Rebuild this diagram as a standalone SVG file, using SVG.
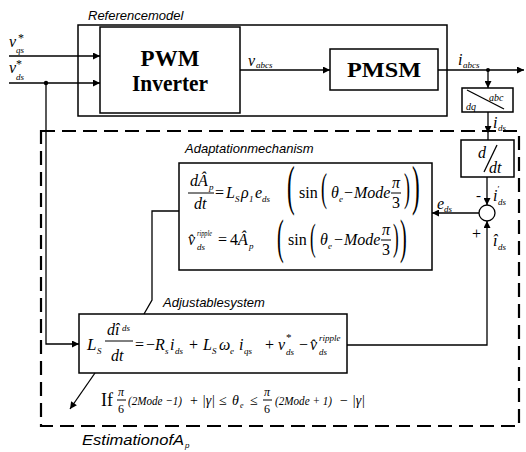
<svg xmlns="http://www.w3.org/2000/svg" width="526" height="452" viewBox="0 0 526 452" font-size="16">
<defs>
<style>
.box{fill:none;stroke:#000;stroke-width:1.5}
.dash{fill:none;stroke:#000;stroke-width:2.2;stroke-dasharray:14 7}
.ln{fill:none;stroke:#000;stroke-width:1.3}
.fb{fill:none;stroke:#000;stroke-width:1}
.hd{font-family:"Liberation Sans",Arial,sans-serif;font-style:italic;fill:#000}
.big{font-family:"Liberation Serif","Times New Roman",serif;font-weight:bold;fill:#000}
.m{font-family:"Liberation Serif","Times New Roman",serif;font-style:italic;fill:#000}
.r{font-family:"Liberation Serif","Times New Roman",serif;fill:#000}
.s{font-family:"Liberation Serif","Times New Roman",serif;font-style:italic;fill:#000}
</style>
<marker id="ah" viewBox="0 0 10 10" refX="10" refY="5" markerWidth="9" markerHeight="7" orient="auto" markerUnits="userSpaceOnUse"><path d="M0,0 L10,5 L0,10 z" fill="#000"/></marker>
</defs>
<rect width="526" height="452" fill="#fff"/>

<g id="reference-model">
<rect class="box" x="78" y="25" width="369" height="91"/>
<text class="hd" x="88" y="20" font-size="13">Referencemodel</text>
</g>

<g id="pwm-inverter">
<rect class="box" x="100" y="27" width="140" height="86"/>
<text class="big" x="170" y="66" font-size="23" text-anchor="middle">PWM</text>
<text class="big" x="170" y="91" font-size="23" text-anchor="middle" textLength="76" lengthAdjust="spacingAndGlyphs">Inverter</text>
</g>

<g id="pmsm">
<rect class="box" x="330" y="49" width="108" height="41"/>
<text class="big" x="384" y="77" font-size="21" text-anchor="middle" textLength="74" lengthAdjust="spacingAndGlyphs">PMSM</text>
</g>

<g id="dq-abc">
<rect class="box" x="462" y="88" width="51" height="24"/>
<line class="ln" x1="467" y1="90" x2="504" y2="109"/>
<text class="s" x="489" y="101" font-size="10">abc</text>
<text class="s" x="466" y="110" font-size="10">dq</text>
</g>

<g id="ddt">
<rect class="box" x="461" y="140" width="53" height="37"/>
<text class="m" x="478" y="158">d</text>
<line class="ln" x1="484" y1="172" x2="497" y2="145"/>
<text class="m" x="489" y="173">dt</text>
</g>

<g id="summing-junction">
<circle class="ln" cx="487" cy="213" r="8"/>
<text class="r" x="476" y="200" font-size="15">-</text>
<text class="r" x="472" y="239" font-size="16">+</text>
</g>

<g id="estimation">
<rect class="dash" x="41" y="131" width="478" height="295"/>
<text class="hd" x="82" y="445" font-size="14" textLength="102" lengthAdjust="spacingAndGlyphs">EstimationofA</text>
<text class="hd" x="185" y="448" font-size="8">p</text>
</g>

<g id="adaptation-mechanism">
<rect class="box" x="179" y="163" width="253" height="107"/>
<text class="hd" x="185" y="153" font-size="13">Adaptationmechanism</text>
<!-- eq 1 -->
<text class="m" x="190" y="186">dÂ</text>
<text class="s" x="209" y="190" font-size="9">p</text>
<line class="fb" x1="188" y1="193" x2="214" y2="193"/>
<text class="m" x="194" y="209">dt</text>
<text class="r" x="215" y="198">=</text>
<text class="m" x="226" y="198">L</text>
<text class="s" x="235" y="202" font-size="9">S</text>
<text class="m" x="241" y="198">ρ</text>
<text class="s" x="249" y="202" font-size="9" font-style="normal">1</text>
<text class="m" x="255" y="198">e</text>
<text class="s" x="262" y="202" font-size="9">ds</text>
<text class="r" transform="translate(287,204) scale(0.42,1)" font-size="55">(</text>
<text class="r" x="299" y="198">sin</text>
<text class="r" transform="translate(321,201) scale(0.45,1)" font-size="40">(</text>
<text class="m" x="331" y="198">θ</text>
<text class="s" x="339" y="202" font-size="9">e</text>
<text class="r" x="344" y="198">−</text>
<text class="m" x="354" y="198">Mode</text>
<text class="m" x="392" y="188">π</text>
<line class="fb" x1="391" y1="193" x2="401" y2="193"/>
<text class="r" x="392" y="208">3</text>
<text class="r" transform="translate(404,201) scale(0.45,1)" font-size="40">)</text>
<text class="r" transform="translate(412,204) scale(0.42,1)" font-size="55">)</text>
<!-- eq 2 -->
<text class="m" x="188" y="245">v̂</text>
<text class="s" x="197" y="236" font-size="9" textLength="15" lengthAdjust="spacingAndGlyphs">ripple</text>
<text class="s" x="197" y="250" font-size="9">ds</text>
<text class="r" x="218" y="245">=</text>
<text class="r" x="230" y="245">4</text>
<text class="m" x="238" y="245">Â</text>
<text class="s" x="249" y="249" font-size="9">p</text>
<text class="r" transform="translate(277,253) scale(0.42,1)" font-size="48">(</text>
<text class="r" x="288" y="245">sin</text>
<text class="r" transform="translate(310,250) scale(0.45,1)" font-size="38">(</text>
<text class="m" x="320" y="245">θ</text>
<text class="s" x="328" y="249" font-size="9">e</text>
<text class="r" x="334" y="245">−</text>
<text class="m" x="344" y="245">Mode</text>
<text class="m" x="382" y="235">π</text>
<line class="fb" x1="381" y1="240" x2="391" y2="240"/>
<text class="r" x="382" y="255">3</text>
<text class="r" transform="translate(393,250) scale(0.45,1)" font-size="38">)</text>
<text class="r" transform="translate(400,253) scale(0.42,1)" font-size="48">)</text>
</g>

<g id="adjustable-system">
<rect class="box" x="79" y="314" width="268" height="59"/>
<text class="hd" x="163" y="307" font-size="13">Adjustablesystem</text>
<text class="m" x="87" y="350" font-size="17">L</text>
<text class="s" x="97" y="354" font-size="9">S</text>
<text class="m" x="107" y="335">dî</text>
<text class="s" x="122" y="331" font-size="9">ds</text>
<line class="fb" x1="105" y1="341" x2="133" y2="341"/>
<text class="m" x="111" y="361">dt</text>
<text class="r" x="135" y="350">=</text>
<text class="r" x="146" y="350">−</text>
<text class="m" x="155" y="350">R</text>
<text class="s" x="165" y="354" font-size="9">s</text>
<text class="m" x="170" y="350">i</text>
<text class="s" x="175" y="354" font-size="9">ds</text>
<text class="r" x="189" y="350">+</text>
<text class="m" x="203" y="350">L</text>
<text class="s" x="212" y="354" font-size="9">S</text>
<text class="m" x="219" y="350">ω</text>
<text class="s" x="230" y="354" font-size="9">e</text>
<text class="m" x="239" y="350">i</text>
<text class="s" x="244" y="354" font-size="9">qs</text>
<text class="r" x="265" y="350">+</text>
<text class="m" x="278" y="350">v</text>
<text class="r" x="286" y="341" font-size="11">*</text>
<text class="s" x="286" y="355" font-size="9">ds</text>
<text class="r" x="299" y="350">−</text>
<text class="m" x="310" y="350">v̂</text>
<text class="s" x="319" y="341" font-size="9">ripple</text>
<text class="s" x="319" y="355" font-size="9">ds</text>
</g>

<g id="condition">
<text class="r" x="101" y="406" font-size="18">If</text>
<text class="m" x="118" y="396" font-size="12">π</text>
<line class="fb" x1="117" y1="400" x2="126" y2="400"/>
<text class="r" x="118" y="413" font-size="12">6</text>
<text class="m" x="128" y="405" font-size="13" textLength="54" lengthAdjust="spacingAndGlyphs">(2Mode −1)</text>
<text class="r" x="190" y="405" font-size="14">+</text>
<text class="m" x="202" y="405" font-size="14">|γ|</text>
<text class="r" x="219" y="405" font-size="14">≤</text>
<text class="m" x="232" y="405" font-size="14">θ</text>
<text class="s" x="240" y="408" font-size="8">e</text>
<text class="r" x="250" y="405" font-size="14">≤</text>
<text class="m" x="264" y="396" font-size="12">π</text>
<line class="fb" x1="263" y1="400" x2="272" y2="400"/>
<text class="r" x="264" y="413" font-size="12">6</text>
<text class="m" x="275" y="405" font-size="13" textLength="57" lengthAdjust="spacingAndGlyphs">(2Mode + 1)</text>
<text class="r" x="340" y="405" font-size="14">−</text>
<text class="m" x="352" y="405" font-size="14">|γ|</text>
</g>

<g id="labels">
<text class="m" x="9" y="47">v</text>
<text class="r" x="18" y="42" font-size="12">*</text>
<text class="s" x="16" y="53" font-size="9">qs</text>
<text class="m" x="9" y="73">v</text>
<text class="r" x="16" y="68" font-size="12">*</text>
<text class="s" x="16" y="80" font-size="9">ds</text>
<text class="m" x="248" y="66">v</text>
<text class="s" x="256" y="68" font-size="9">abcs</text>
<text class="m" x="458" y="65">i</text>
<text class="s" x="463" y="68" font-size="9">abcs</text>
<text class="m" x="493" y="128">i</text>
<text class="s" x="498" y="131" font-size="9">ds</text>
<text class="m" x="493" y="201">i</text>
<text class="s" x="497" y="192" font-size="9">′</text>
<text class="s" x="498" y="205" font-size="9">ds</text>
<text class="m" x="437" y="209">e</text>
<text class="s" x="444" y="212" font-size="9">ds</text>
<text class="m" x="493" y="246">î</text>
<text class="s" x="498" y="250" font-size="9">ds</text>
</g>

<g id="connectors">
<line class="ln" x1="9" y1="56" x2="100" y2="56" marker-end="url(#ah)"/>
<line class="ln" x1="9" y1="83" x2="100" y2="83" marker-end="url(#ah)"/>
<circle cx="46" cy="83" r="2.2" fill="#000"/>
<polyline class="ln" points="46,83 46,344 79,344" marker-end="url(#ah)"/>
<line class="ln" x1="240" y1="70" x2="330" y2="70" marker-end="url(#ah)"/>
<line class="ln" x1="438" y1="70" x2="524" y2="70" marker-end="url(#ah)"/>
<circle cx="488" cy="70" r="2" fill="#000"/>
<line class="ln" x1="488" y1="70" x2="488" y2="88" marker-end="url(#ah)"/>
<line class="ln" x1="488" y1="112" x2="488" y2="133" marker-end="url(#ah)"/>
<line class="ln" x1="488" y1="133" x2="488" y2="140"/>
<line class="ln" x1="487" y1="177" x2="487" y2="205" marker-end="url(#ah)"/>
<line class="ln" x1="479" y1="213" x2="432" y2="213" marker-end="url(#ah)"/>
<polyline class="ln" points="347,345 487,345 487,221" marker-end="url(#ah)"/>
<polyline class="ln" points="179,211 152,211 152,300 144,314"/>
<line class="ln" x1="95" y1="373" x2="70" y2="409" marker-end="url(#ah)"/>
</g>
</svg>
